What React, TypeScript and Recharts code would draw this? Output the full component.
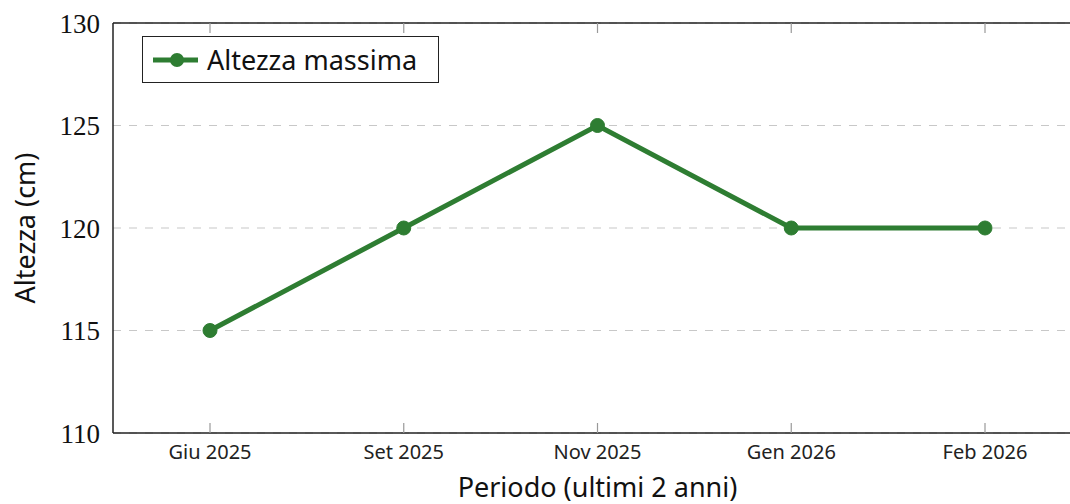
import React from 'react';
import { LineChart, Line, XAxis, YAxis, CartesianGrid, Legend, Label } from 'recharts';

const periods = ['Giu 2025', 'Set 2025', 'Nov 2025', 'Gen 2026', 'Feb 2026'];
const heights = [115, 120, 125, 120, 120];
const yTicks = [110, 115, 120, 125, 130];
const seriesName = 'Altezza massima';
const xTitle = 'Periodo (ultimi 2 anni)';
const yTitle = 'Altezza (cm)';

const data = periods.map((p, i) => ({ period: p, value: heights[i] }));

const GREEN = '#2e7d32';
const SANS = '"Noto Sans", "Open Sans", sans-serif';
const SERIF = '"Liberation Serif", "DejaVu Serif", serif';

const NoTick = () => <g />;

const renderLegend = (props: any) => {
  const item = (props.payload && props.payload[0]) || { value: seriesName, color: GREEN };
  return (
    <div
      style={{
        border: '1.5px solid #222',
        background: '#fff',
        width: 297,
        height: 47,
        boxSizing: 'border-box',
        display: 'flex',
        alignItems: 'center',
        paddingLeft: 10,
        fontFamily: SANS,
        fontSize: 27,
        color: '#111',
      }}
    >
      <svg width={45} height={16} style={{ display: 'block' }}>
        <line x1={0} y1={8} x2={45} y2={8} stroke={GREEN} strokeWidth={5} />
        <circle cx={24} cy={8} r={7} fill={GREEN} />
      </svg>
      <span style={{ marginLeft: 9, lineHeight: '1' }}>{item.value}</span>
    </div>
  );
};

export default function App() {
  return (
    <div
      style={{
        position: 'absolute',
        left: 0,
        top: 0,
        width: 1070,
        height: 504,
        overflow: 'hidden',
        background: '#fff',
      }}
    >
      <LineChart width={1082} height={504} data={data} margin={{ top: 23, right: 0, bottom: 0, left: 0 }}>
        <CartesianGrid vertical={false} stroke="#c8c8c8" strokeDasharray="8 8" strokeWidth={1.2} yAxisId="main" xAxisId="main" />
        <XAxis
          xAxisId="main"
          dataKey="period"
          padding={{ left: 97, right: 97 }}
          height={71}
          interval={0}
          tickLine={false}
          tickSize={0}
          tickMargin={12}
          axisLine={{ stroke: '#222', strokeWidth: 1.5 }}
          tick={{ fontFamily: SANS, fontSize: 20, fill: '#222' }}
        >
          <Label
            value={xTitle}
            position="insideBottom"
            offset={7}
            style={{ fontFamily: SANS, fontSize: 27, fill: '#111' }}
          />
        </XAxis>
        <XAxis
          xAxisId="inB"
          dataKey="period"
          padding={{ left: 97, right: 97 }}
          mirror
          interval={0}
          tick={NoTick}
          axisLine={false}
          tickSize={10}
          tickLine={{ stroke: '#999', strokeWidth: 1.2 }}
        />
        <XAxis
          xAxisId="top"
          orientation="top"
          dataKey="period"
          padding={{ left: 97, right: 97 }}
          mirror
          interval={0}
          tick={NoTick}
          axisLine={{ stroke: '#222', strokeWidth: 1.5 }}
          tickSize={10}
          tickLine={{ stroke: '#999', strokeWidth: 1.2 }}
        />
        <YAxis
          yAxisId="main"
          type="number"
          domain={[110, 130]}
          ticks={yTicks}
          width={113}
          tickLine={false}
          tickSize={0}
          tickMargin={13}
          axisLine={{ stroke: '#222', strokeWidth: 1.5 }}
          tick={{ fontFamily: SERIF, fontSize: 27, fill: '#111' }}
        >
          <Label
            value={yTitle}
            angle={-90}
            position="insideLeft"
            offset={25}
            style={{ fontFamily: SANS, fontSize: 27, fill: '#111', textAnchor: 'middle' }}
          />
        </YAxis>
        <YAxis
          yAxisId="in"
          type="number"
          domain={[110, 130]}
          ticks={yTicks}
          mirror
          tick={NoTick}
          axisLine={false}
          tickSize={10}
          tickLine={{ stroke: '#999', strokeWidth: 1.2 }}
        />
        <Legend
          layout="horizontal"
          verticalAlign="middle"
          align="center"
          content={renderLegend}
          wrapperStyle={{ left: 142, top: 36, width: 297, height: 47 }}
        />
        <Line
          xAxisId="main"
          yAxisId="main"
          type="linear"
          dataKey="value"
          name={seriesName}
          stroke={GREEN}
          strokeWidth={5}
          dot={{ r: 7, fill: GREEN, stroke: GREEN, strokeWidth: 1 }}
          activeDot={false}
          isAnimationActive={false}
        />
      </LineChart>
    </div>
  );
}
